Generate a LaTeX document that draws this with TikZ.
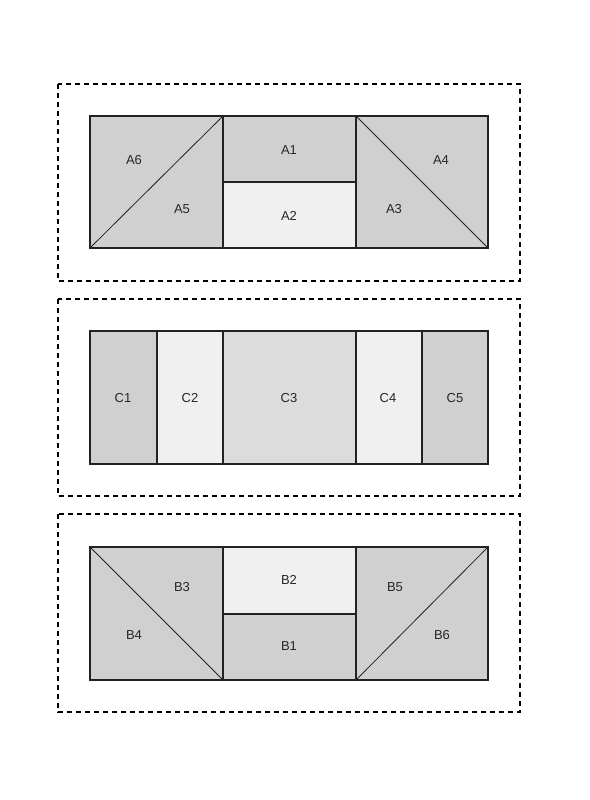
\documentclass[tikz,border=0pt]{standalone}
\usepackage{fontspec}
\setmainfont{Liberation Sans}
\definecolor{dk}{HTML}{D0D0D0}
\definecolor{lt}{HTML}{F0F0F0}
\definecolor{md}{HTML}{DCDCDC}
\definecolor{ln}{HTML}{222222}
\begin{document}
\begin{tikzpicture}[x=1pt,y=-1pt,
  cell/.style={draw=ln,line width=1.3pt},
  diag/.style={draw=ln,line width=0.8pt},
  frame/.style={draw=black,line width=1.1pt,dash pattern=on 5pt off 4pt},
  lbl/.style={font=\fontsize{13}{15}\selectfont,text=black!85,inner sep=0pt}]
\useasboundingbox[fill=white] (0,0) rectangle (589,800);
% frames
\draw[frame] (58,84) rectangle (520,281);
\draw[frame] (58,299) rectangle (520,496);
\draw[frame] (58,514) rectangle (520,712);
% top panel A
\fill[dk] (90,116) rectangle (223,248);
\fill[dk] (223,116) rectangle (356,182);
\fill[lt] (223,182) rectangle (356,248);
\fill[dk] (356,116) rectangle (488,248);
\draw[diag] (90,248) -- (223,116);
\draw[diag] (356,116) -- (488,248);
\draw[cell] (90,116) rectangle (488,248);
\draw[cell] (223,116) -- (223,248);
\draw[cell] (356,116) -- (356,248);
\draw[cell] (223,182) -- (356,182);
\node[lbl] (A6) at (134,160) {A6};
\node[lbl] (A5) at (182,209) {A5};
\node[lbl] (A1) at (289,150) {A1};
\node[lbl] (A2) at (289,216) {A2};
\node[lbl] (A4) at (441,160) {A4};
\node[lbl] (A3) at (394,209) {A3};
% middle panel C
\fill[dk] (90,331) rectangle (157,464);
\fill[lt] (157,331) rectangle (223,464);
\fill[md] (223,331) rectangle (356,464);
\fill[lt] (356,331) rectangle (422,464);
\fill[dk] (422,331) rectangle (488,464);
\draw[cell] (90,331) rectangle (488,464);
\draw[cell] (157,331) -- (157,464);
\draw[cell] (223,331) -- (223,464);
\draw[cell] (356,331) -- (356,464);
\draw[cell] (422,331) -- (422,464);
\node[lbl] (C1) at (123,398) {C1};
\node[lbl] (C2) at (190,398) {C2};
\node[lbl] (C3) at (289,398) {C3};
\node[lbl] (C4) at (388,398) {C4};
\node[lbl] (C5) at (455,398) {C5};
% bottom panel B
\fill[dk] (90,547) rectangle (223,680);
\fill[lt] (223,547) rectangle (356,614);
\fill[dk] (223,614) rectangle (356,680);
\fill[dk] (356,547) rectangle (488,680);
\draw[diag] (90,547) -- (223,680);
\draw[diag] (356,680) -- (488,547);
\draw[cell] (90,547) rectangle (488,680);
\draw[cell] (223,547) -- (223,680);
\draw[cell] (356,547) -- (356,680);
\draw[cell] (223,614) -- (356,614);
\node[lbl] (B3) at (182,587) {B3};
\node[lbl] (B4) at (134,635) {B4};
\node[lbl] (B2) at (289,580) {B2};
\node[lbl] (B1) at (289,646) {B1};
\node[lbl] (B5) at (395,587) {B5};
\node[lbl] (B6) at (442,635) {B6};
\end{tikzpicture}
\end{document}
